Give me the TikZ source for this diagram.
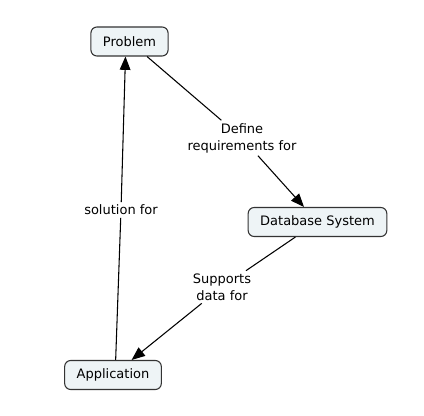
\documentclass[tikz,border=0pt]{standalone}
\usepackage{fontspec}
\setmainfont{DejaVu Sans}
\usepackage{tikz}
\usetikzlibrary{positioning,calc,arrows.meta}
\definecolor{conceptfill}{HTML}{EEF4F6}
\definecolor{conceptline}{HTML}{333333}

\begin{document}
\begin{tikzpicture}[x=0.75pt, y=-0.75pt,
    concept/.style={draw=conceptline, line width=0.8pt, fill=conceptfill, rounded corners=4.5pt,
        inner xsep=9pt, minimum height=21.75pt, font=\fontsize{9.75}{12}\selectfont},
    linklabel/.style={align=center, inner sep=2pt, font=\fontsize{9.75}{12.75}\selectfont},
    link/.style={line width=0.8pt},
    linkarrow/.style={line width=0.8pt, -{Triangle[length=10pt, width=8pt]}}]
\useasboundingbox (0,0) rectangle (424,416);
% Concepts
\node[concept] (problem) at (129.5,41.5) {Problem};
\node[concept] (dbsys) at (317.5,222) {Database System};
\node[concept] (appl) at (113,375) {Application};
% Linking phrases
\node[linklabel] (define) at (242,138) {Define\\requirements for};
\node[linklabel] (solution) at (121,210) {solution for};
\node[linklabel] (supports) at (222,287) {Supports\\data for};
% Connections
\draw[link] (problem) -- (define);
\draw[linkarrow] (define) -- (dbsys);
\draw[link] (dbsys) -- (supports);
\draw[linkarrow] (supports) -- (appl);
\draw[link] (appl.80) -- (solution);
\draw[linkarrow] (solution) -- (problem.-105);
\end{tikzpicture}
\end{document}
